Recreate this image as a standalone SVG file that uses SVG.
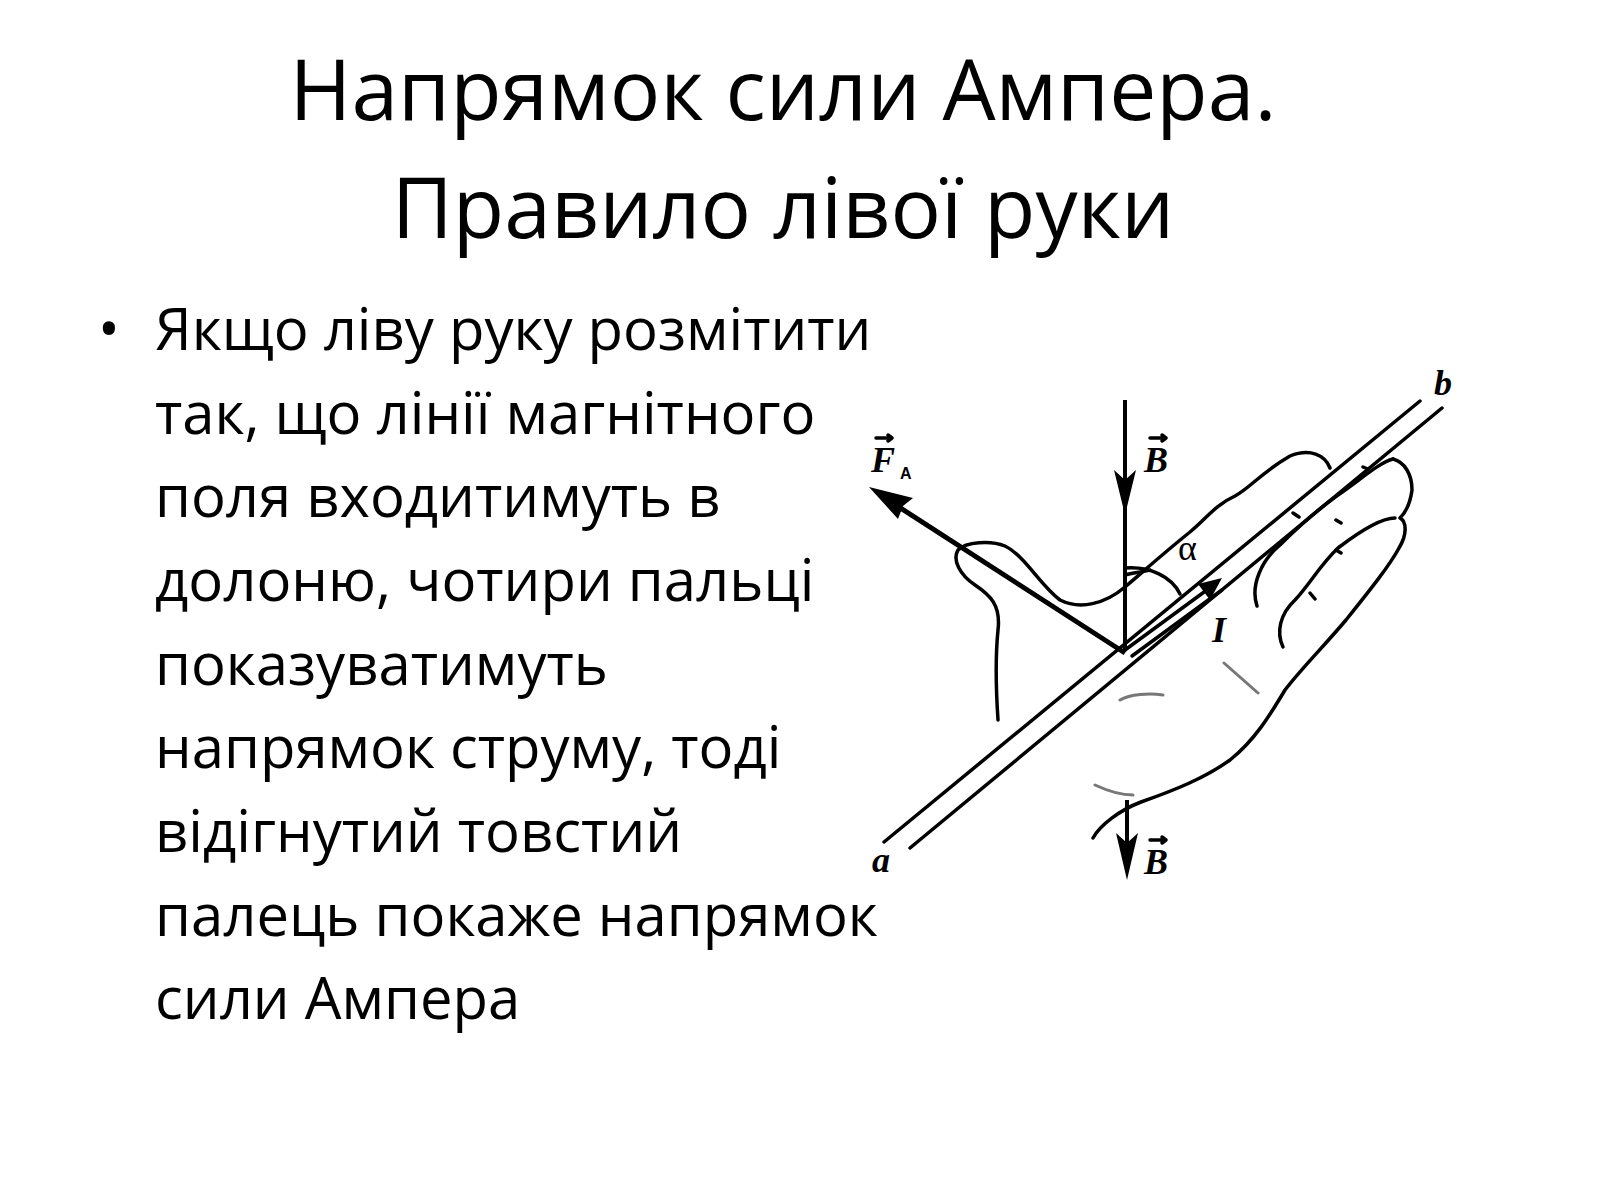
<svg xmlns="http://www.w3.org/2000/svg" width="1600" height="1200" viewBox="0 0 1600 1200">
<style>
.t{font-family:"Open Sans","Noto Sans",sans-serif;fill:#000}
.h{stroke:#000;stroke-width:3.5;fill:none;stroke-linecap:round;stroke-linejoin:round}
.g{stroke:#777;stroke-width:3;fill:none;stroke-linecap:round}
.lb{font-family:"Liberation Serif",serif;font-style:italic;font-weight:bold;font-size:36px}
</style>
<rect width="1600" height="1200" fill="#fff"/>
<g id="title" class="t" font-size="84" text-anchor="middle">
<text x="783" y="120">Напрямок сили Ампера.</text>
<text x="783" y="238">Правило лівої руки</text>
</g>
<g id="body" class="t" font-size="58">
<text x="98" y="350">•</text>
<text x="155" y="350">Якщо ліву руку розмітити</text>
<text x="155" y="434">так, що лінії магнітного</text>
<text x="155" y="517">поля входитимуть в</text>
<text x="155" y="601">долоню, чотири пальці</text>
<text x="155" y="685">показуватимуть</text>
<text x="155" y="768">напрямок струму, тоді</text>
<text x="155" y="852">відігнутий товстий</text>
<text x="155" y="936">палець покаже напрямок</text>
<text x="155" y="1019">сили Ампера</text>
</g>
<g id="drawing">
<path class="h" d="M998,720 C996,690 995,660 998,630 C1001,605 990,595 975,585 C960,575 952,560 958,550 C966,542 990,540 1005,546 C1025,556 1040,585 1060,600 C1080,610 1105,604 1125,587 C1145,570 1165,552 1190,532 C1205,520 1215,505 1235,496 C1250,488 1262,472 1290,456 C1310,448 1325,455 1330,468"/>
<path class="h" d="M1393,459 C1405,462 1412,475 1412,490 C1410,505 1406,512 1400,518 C1407,522 1407,535 1399,548 C1390,565 1370,590 1346,620 C1325,645 1300,670 1285,690 C1270,715 1255,740 1230,760 C1205,778 1175,790 1141,802 C1120,810 1100,825 1093,838"/>
<path class="h" d="M1393,459 C1380,462 1360,480 1338,495 C1320,508 1300,525 1280,545 C1262,560 1250,585 1257,606"/>
<path class="h" d="M1395,518 C1380,518 1355,535 1338,548 C1320,565 1310,584 1295,600 C1280,614 1276,632 1283,647"/>
<path class="h" d="M1293,513 l6,4 M1336,520 l5,3 M1363,467 l5,2 M1310,593 l5,6 M1336,550 l5,3"/>
<path class="g" d="M1224,663 L1258,693 M1120,700 C1130,694 1150,693 1163,695 M1095,785 C1110,792 1120,795 1133,795"/>
<line class="h" x1="884" y1="842" x2="1420" y2="401"/>
<line class="h" x1="910" y1="848" x2="1442" y2="408"/>
<path class="h" d="M1125,650 L1215,584 M1132,656 L1222,590"/>
<path d="M1222,578 L1198,584 L1210,600 Z" fill="#000"/>
<line x1="1125" y1="400" x2="1125" y2="650" stroke="#000" stroke-width="4"/>
<path d="M1125,515 L1114,470 L1125,480 L1136,470 Z" fill="#000"/>
<line x1="1125" y1="653" x2="885" y2="498" stroke="#000" stroke-width="5"/>
<path d="M869,487 L913,498 L903,506 L898,519 Z" fill="#000"/>
<path class="h" d="M1125,568 C1150,566 1172,577 1180,594"/>
<path class="h" d="M1125,575 C1135,572 1145,572 1150,570"/>
<line x1="1127" y1="800" x2="1127" y2="870" stroke="#000" stroke-width="4"/>
<path d="M1127,880 L1116,833 L1127,843 L1138,833 Z" fill="#000"/>
<text class="lb" x="1144" y="472">B</text>
<path class="h" stroke-width="2" d="M1150,438 h16 l-4,-3 M1166,438 l-4,3"/>
<text class="lb" x="871" y="472">F</text>
<text x="900" y="479" font-family="Liberation Sans,sans-serif" font-size="16" font-weight="bold">A</text>
<path class="h" stroke-width="2" d="M876,438 h16 l-4,-3 M892,438 l-4,3"/>
<text class="lb" x="1144" y="874">B</text>
<path class="h" stroke-width="2" d="M1150,840 h16 l-4,-3 M1166,840 l-4,3"/>
<text x="1178" y="560" font-family="Liberation Serif,serif" font-size="36">α</text>
<text class="lb" x="1212" y="642">I</text>
<text class="lb" x="872" y="872" font-size="32">a</text>
<text class="lb" x="1434" y="395" font-size="32">b</text>
</g>
</svg>
